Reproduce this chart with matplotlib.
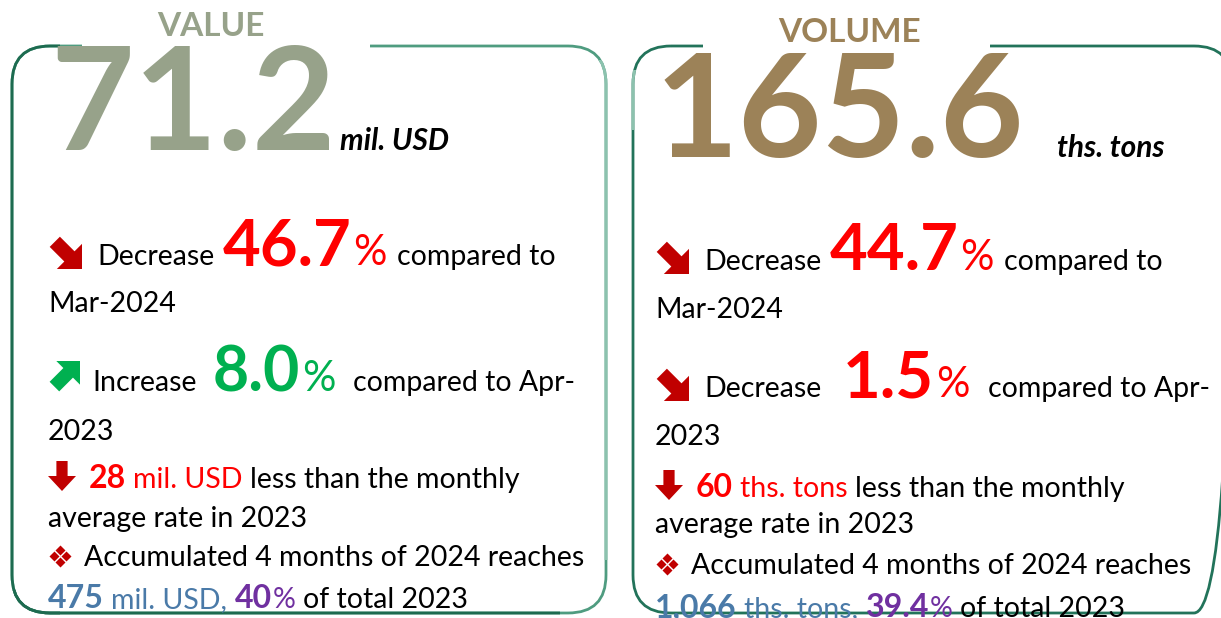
import matplotlib
matplotlib.use("Agg")
import matplotlib.pyplot as plt
from matplotlib.patches import FancyBboxPatch, Polygon, Rectangle

plt.rcParams['font.family'] = ['Lato', 'DejaVu Sans']

# headline figures
panel_titles = ["VALUE", "VOLUME"]
headline = ["71.2", "165.6"]
units = ["mil. USD", "ths. tons"]

# changes
mom_pct = ["46.7", "44.7"]          # vs Mar-2024
mom_dir = ["down", "down"]
yoy_pct = ["8.0", "1.5"]            # vs Apr-2023
yoy_dir = ["up", "down"]
gap_to_avg = ["28", "60"]           # below 2023 monthly average
ytd_total = ["475", "1,066"]        # 4 months of 2024
ytd_share = ["40", "39.4"]          # % of total 2023

W, H = 1221, 618
fig = plt.figure(figsize=(W / 100, H / 100), dpi=100)
ax = fig.add_axes([0, 0, 1, 1])
ax.set_xlim(0, W)
ax.set_ylim(H, 0)
ax.axis('off')
renderer = fig.canvas.get_renderer()

RED = '#ff0000'
DARKRED = '#c00000'
GREEN = '#00b050'
BLUE = '#4a7aa8'
PURPLE = '#7030a0'
big_colors = ['#97a28a', '#9c8258']
DARK_FRAME = '#1d6b50'
LIGHT_FRAME = '#8cc2ae'

styles = {
    'txt': dict(fontsize=20.5, color='black'),
    'big_red': dict(fontsize=47, color=RED, fontweight='bold'),
    'big_green': dict(fontsize=45, color=GREEN, fontweight='bold'),
    'pct_red': dict(fontsize=30, color=RED),
    'pct_green': dict(fontsize=30, color=GREEN),
    'num_red': dict(fontsize=23, color=RED, fontweight='bold'),
    'unit_red': dict(fontsize=20.5, color=RED),
    'num_blue': dict(fontsize=23, color=BLUE, fontweight='bold'),
    'unit_blue': dict(fontsize=20.5, color=BLUE),
    'num_purple': dict(fontsize=23, color=PURPLE, fontweight='bold'),
    'pct_purple': dict(fontsize=20.5, color=PURPLE),
}


def draw_runs(x, y, runs):
    for text, st, gap in runs:
        t = ax.text(x, y, text, va='baseline', ha='left', zorder=3, **styles[st])
        x += t.get_window_extent(renderer).width + gap
    return x


def arrow_diag(x, y, size, color, up=False):
    pts = [(0.05, 0.35), (0.35, 0.05), (0.78, 0.48), (1.0, 0.26),
           (1.0, 1.0), (0.26, 1.0), (0.48, 0.78)]
    if up:
        pts = [(px, 1 - py) for px, py in pts]
    ax.add_patch(Polygon([(x + px * size, y + py * size) for px, py in pts],
                         closed=True, fc=color, ec='none', zorder=3))


def arrow_down(x, y, w, h, color):
    pts = [(0.3, 0), (0.7, 0), (0.7, 0.5), (1.0, 0.5), (0.5, 1.0), (0.0, 0.5), (0.3, 0.5)]
    ax.add_patch(Polygon([(x + px * w, y + py * h) for px, py in pts],
                         closed=True, fc=color, ec='none', zorder=3))


def diamonds(cx, cy, s, color):
    for dx, dy in [(0, -1), (1, 0), (0, 1), (-1, 0)]:
        ax.plot(cx + dx * s, cy + dy * s, marker='D', ms=5, color=color,
                mec='none', zorder=3)


def frame(x0, x1, color, clip=None):
    box = FancyBboxPatch((x0, 46), x1 - x0, 567,
                         boxstyle='round,pad=0,rounding_size=38',
                         fc='none', ec=color, lw=2, zorder=1)
    ax.add_patch(box)
    if clip is not None:
        cx, cy, cw, ch = clip
        r = Rectangle((cx, cy), cw, ch, transform=ax.transData)
        box.set_clip_path(r)


panels = [
    dict(x0=12, x1=606, gap=(82, 370), tx=48, title_x=211, title_y=36,
         big_x=50, big_y=150, big_size=104, unit_x=340, unit_y=150,
         base=[265, 312, 391, 440, 488, 527, 566, 608]),
    dict(x0=633, x1=1232, gap=(703, 990), tx=655, title_x=849, title_y=42,
         big_x=655, big_y=157, big_size=104, unit_x=1057, unit_y=157,
         base=[270, 318, 397, 445, 497, 533, 574, 617]),
]

# left frame: dark on the left and bottom, light on the right
frame(12, 606, '#4f9c80')
frame(12, 606, LIGHT_FRAME, clip=(450, 60, 200, 500))
frame(12, 606, DARK_FRAME, clip=(0, 0, 60, 618))
frame(12, 606, DARK_FRAME, clip=(0, 590, 560, 40))
# right frame: dark with a lighter top-left corner
frame(633, 1232, '#22735a')
frame(633, 1232, LIGHT_FRAME, clip=(620, 70, 25, 60))

for i, p in enumerate(panels):
    ax.add_patch(Rectangle((p['gap'][0], 40), p['gap'][1] - p['gap'][0], 12,
                           fc='white', ec='none', zorder=1.5))

    ax.text(p['title_x'], p['title_y'], panel_titles[i], ha='center', va='baseline',
            fontsize=24, fontweight='bold', color=big_colors[i], zorder=3)
    ax.text(p['big_x'], p['big_y'], headline[i], ha='left', va='baseline',
            fontsize=p['big_size'], fontweight='bold', color=big_colors[i], zorder=3)
    ax.text(p['unit_x'], p['unit_y'], units[i], ha='left', va='baseline',
            fontsize=21.5, fontweight='bold', fontstyle='italic', color='black', zorder=3)

    tx = p['tx']
    b = p['base']
    unit = units[i]

    # line 1: month-on-month
    arrow_diag(tx, b[0] - 30, 34, DARKRED, up=(mom_dir[i] == 'up'))
    word = 'Increase' if mom_dir[i] == 'up' else 'Decrease'
    draw_runs(tx + 49, b[0], [(word, 'txt', 8), (mom_pct[i], 'big_red', 2),
                              ('%', 'pct_red', 10), ('compared to', 'txt', 0)])
    draw_runs(tx, b[1], [('Mar-2024', 'txt', 0)])

    # line 2: year-on-year
    up = yoy_dir[i] == 'up'
    arrow_diag(tx, b[2] - 30, 32 if up else 34, GREEN if up else DARKRED, up=up)
    word = 'Increase' if up else 'Decrease'
    big = 'big_green' if up else 'big_red'
    pct = 'pct_green' if up else 'pct_red'
    draw_runs(tx + (44 if up else 49), b[2], [(word, 'txt', 16 if up else 22),
                                              (yoy_pct[i], big, 2), ('%', pct, 18),
                                              ('compared to Apr-', 'txt', 0)])
    draw_runs(tx, b[3], [('2023', 'txt', 0)])

    # line 3: gap to 2023 monthly average
    arrow_down(tx, b[4] - 27, 28, 30, DARKRED)
    draw_runs(tx + 41, b[4], [(gap_to_avg[i], 'num_red', 7), (unit, 'unit_red', 7),
                              ('less than the monthly', 'txt', 0)])
    draw_runs(tx, b[5], [('average rate in 2023', 'txt', 0)])

    # line 4: year to date
    diamonds(tx + 12, b[6] - 10, 6, DARKRED)
    draw_runs(tx + 36, b[6], [('Accumulated 4 months of 2024 reaches', 'txt', 0)])
    draw_runs(tx, b[7], [(ytd_total[i], 'num_blue', 7), (unit + ',', 'unit_blue', 8),
                         (ytd_share[i], 'num_purple', 1), ('%', 'pct_purple', 7),
                         ('of total 2023', 'txt', 0)])

fig.savefig('out.png', dpi=100)
